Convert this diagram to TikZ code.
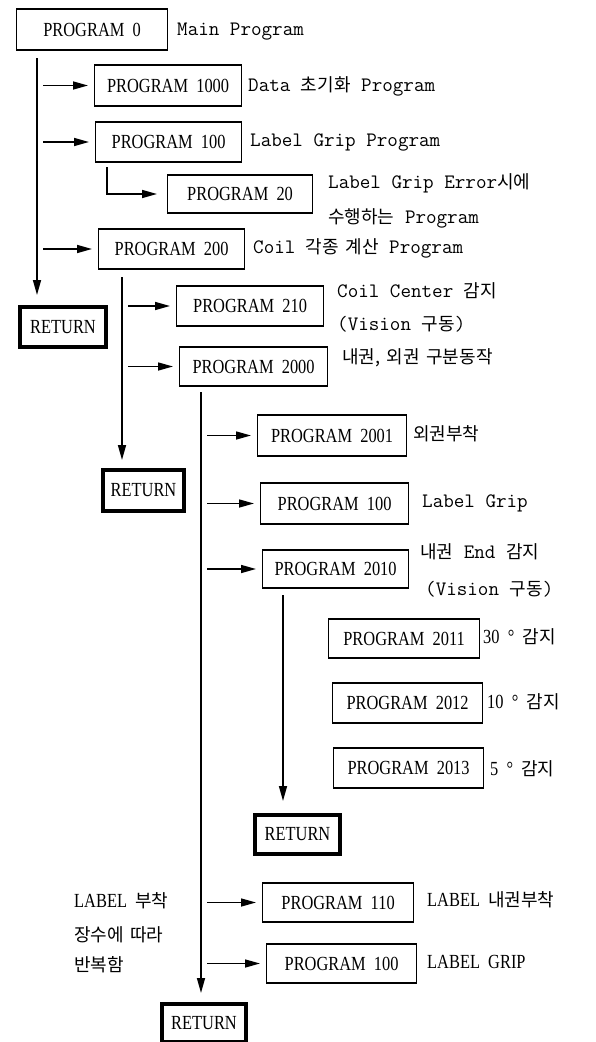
\documentclass[tikz,border=0pt]{standalone}
\usepackage{fontspec}
\usepackage{tikz}
\usetikzlibrary{arrows.meta}
\newfontfamily\boxfont[FakeStretch=0.82,WordSpace=2]{Liberation Serif}
\newfontfamily\krfont[WordSpace=1.6]{Noto Sans CJK KR}
\newcommand{\kr}[1]{{\fontsize{18}{22}\selectfont\krfont #1}}

\begin{document}
\begin{tikzpicture}[x=1pt, y=-1pt, >={Triangle[length=15pt,width=8pt]},
    prog/.style={draw, line width=1.2pt, minimum width=148pt, minimum height=40pt,
        inner sep=0pt, anchor=west, font=\fontsize{20}{24}\selectfont\boxfont},
    ret/.style={draw, line width=4pt, minimum width=84pt, minimum height=40pt,
        inner sep=0pt, font=\fontsize{20}{24}\selectfont\boxfont},
    note/.style={anchor=west, inner sep=0pt, text height=14pt, text depth=4pt,
        font=\fontsize{20.5}{24}\selectfont\ttfamily},
    capnote/.style={note, font=\fontsize{20}{24}\selectfont\boxfont},
    flow/.style={line width=1.5pt}]
    \useasboundingbox (0,0) rectangle (596,1042);

    % Main program
    \node[prog, minimum width=151pt, minimum height=41pt] (p0) at (16,29.5) {PROGRAM 0};
    \node[note] (n0) at (177,30) {Main Program};

    % First level
    \node[prog, minimum width=147pt, minimum height=41pt] (p1000) at (94,85.5) {PROGRAM 1000};
    \node[note] (n1000) at (248,86) {Data \kr{초기화} Program};
    \node[prog, minimum width=146pt] (p100a) at (95,142) {PROGRAM 100};
    \node[note] (n100a) at (250,141) {Label Grip Program};
    \node[prog, minimum width=145pt, minimum height=38pt] (p20) at (167,194) {PROGRAM 20};
    \node[note] (n20a) at (328,183) {Label Grip Error\kr{시에}};
    \node[note] (n20b) at (328,218) {\kr{수행하는} Program};
    \node[prog, minimum width=146pt] (p200) at (98,249) {PROGRAM 200};
    \node[note] (n200) at (253,248) {Coil \kr{각종 계산} Program};
    \node[ret, minimum width=86pt] (r1) at (63,327) {RETURN};

    % Second level
    \node[prog, minimum width=147pt] (p210) at (176,306) {PROGRAM 210};
    \node[note] (n210a) at (337,292) {Coil Center \kr{감지}};
    \node[note] (n210b) at (337,325) {(Vision \kr{구동})};
    \node[prog, minimum height=39pt] (p2000) at (179,366.5) {PROGRAM 2000};
    \node[note] (n2000) at (342,358) {\kr{내권, 외권 구분동작}};
    \node[ret, minimum width=81pt, minimum height=41pt] (r2) at (143.5,490.5) {RETURN};

    % Third level
    \node[prog, minimum width=149pt, minimum height=41pt] (p2001) at (257,435.5) {PROGRAM 2001};
    \node[note] (n2001) at (413,435) {\kr{외권부착}};
    \node[prog, minimum height=41pt] (p100b) at (260,503.5) {PROGRAM 100};
    \node[note] (n100b) at (422,502) {Label Grip};
    \node[prog, minimum width=146pt, minimum height=38pt] (p2010) at (262,569) {PROGRAM 2010};
    \node[note] (n2010a) at (420,553) {\kr{내권} End \kr{감지}};
    \node[note] (n2010b) at (425,590) {(Vision \kr{구동})};
    \node[prog, minimum width=151pt, minimum height=39pt] (p2011) at (328,638.5) {PROGRAM 2011};
    \node[capnote] (n2011) at (483,638) {30 ° \kr{감지}};
    \node[prog, minimum width=150pt] (p2012) at (332,703) {PROGRAM 2012};
    \node[capnote] (n2012) at (487,703) {10 ° \kr{감지}};
    \node[prog, minimum width=150pt] (p2013) at (333,768) {PROGRAM 2013};
    \node[capnote] (n2013) at (490,770) {5 ° \kr{감지}};
    \node[ret, minimum width=85pt, minimum height=39pt] (r3) at (297.5,834.5) {RETURN};

    % Label loop
    \node[prog, minimum width=151pt, minimum height=39pt] (p110) at (262,902.5) {PROGRAM 110};
    \node[capnote] (n110) at (427,901) {LABEL \kr{내권부착}};
    \node[prog, minimum width=150pt, minimum height=39pt] (p100c) at (266,963.5) {PROGRAM 100};
    \node[capnote] (n100c) at (427,963) {LABEL GRIP};
    \node[capnote] (loopa) at (74,902) {LABEL \kr{부착}};
    \node[note] (loopb) at (74,936) {\kr{장수에 따라}};
    \node[note] (loopc) at (74,966) {\kr{반복함}};
    \node[ret, minimum height=38pt] (r4) at (204,1023) {RETURN};

    % Trunks
    \coordinate (t0) at (37,58);
    \coordinate (t1) at (122,277);
    \coordinate (t2) at (201,392);
    \coordinate (t3) at (283,595);
    \coordinate (s20) at (107,167);
    \draw[flow, ->, shorten >=10pt] (t0) -- (t0 |- r1.north);
    \draw[flow, ->, shorten >=8pt] (t1) -- (t1 |- r2.north);
    \draw[flow, ->, shorten >=9pt] (t2) -- (t2 |- r4.north);
    \draw[flow, ->, shorten >=12pt] (t3) -- (t3 |- r3.north);
    \draw[flow, ->, shorten >=10pt] (s20) |- (p20.west);

    % Calls
    \foreach \t/\p in {t0/p1000, t0/p100a, t0/p200, t1/p210, t1/p2000,
        t2/p2001, t2/p100b, t2/p2010, t2/p110, t2/p100c}
        \draw[flow, ->, shorten >=6pt] (\t |- \p.west) ++(6,0) -- (\p.west);
\end{tikzpicture}
\end{document}
